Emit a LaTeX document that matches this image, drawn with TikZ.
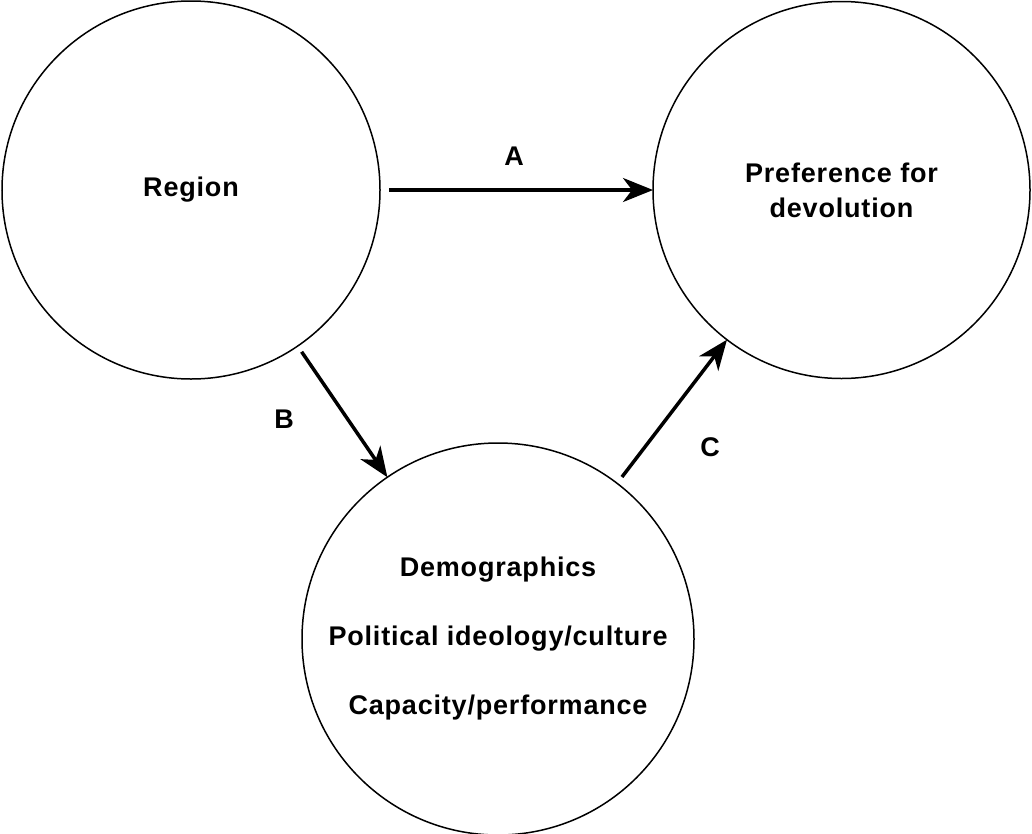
\documentclass[tikz,border=0pt]{standalone}
\usepackage{fontspec}
\newfontfamily\labfont{Liberation Sans}[LetterSpace=3]
\usetikzlibrary{arrows.meta}
\tikzset{
  bubble/.style={circle, draw, line width=1.5pt, inner sep=0pt, outer sep=0pt,
    align=center, font=\labfont\bfseries\fontsize{27}{35}\selectfont},
  link/.style={line width=3.5pt, -{Stealth[length=30pt,width=24pt,inset=9pt]}},
  tag/.style={font=\labfont\bfseries\fontsize{27}{30}\selectfont, inner sep=0pt}
}
\begin{document}
\begin{tikzpicture}[x=1pt,y=-1pt]
  \useasboundingbox (0,0) rectangle (1032,833);
  \node[bubble, minimum size=378pt] (reg) at (191,190) {Region};
  \node[bubble, minimum size=377pt] (pref) at (841.5,190) {Preference for\\devolution};
  \node[bubble, minimum size=392pt, font=\labfont\bfseries\fontsize{27}{69}\selectfont] (bot) at (498,639)
    {Demographics\\Political ideology/culture\\Capacity/performance};
  \draw[link, shorten <=9pt] (reg.east) -- (pref.west);
  \draw[link, shorten <=7pt] (reg) -- (bot);
  \draw[link, shorten <=8pt] (bot) -- (pref);
  \node[tag] (la) at (514,156) {A};
  \node[tag] (lb) at (284,419) {B};
  \node[tag] (lc) at (710,447) {C};
\end{tikzpicture}
\end{document}
